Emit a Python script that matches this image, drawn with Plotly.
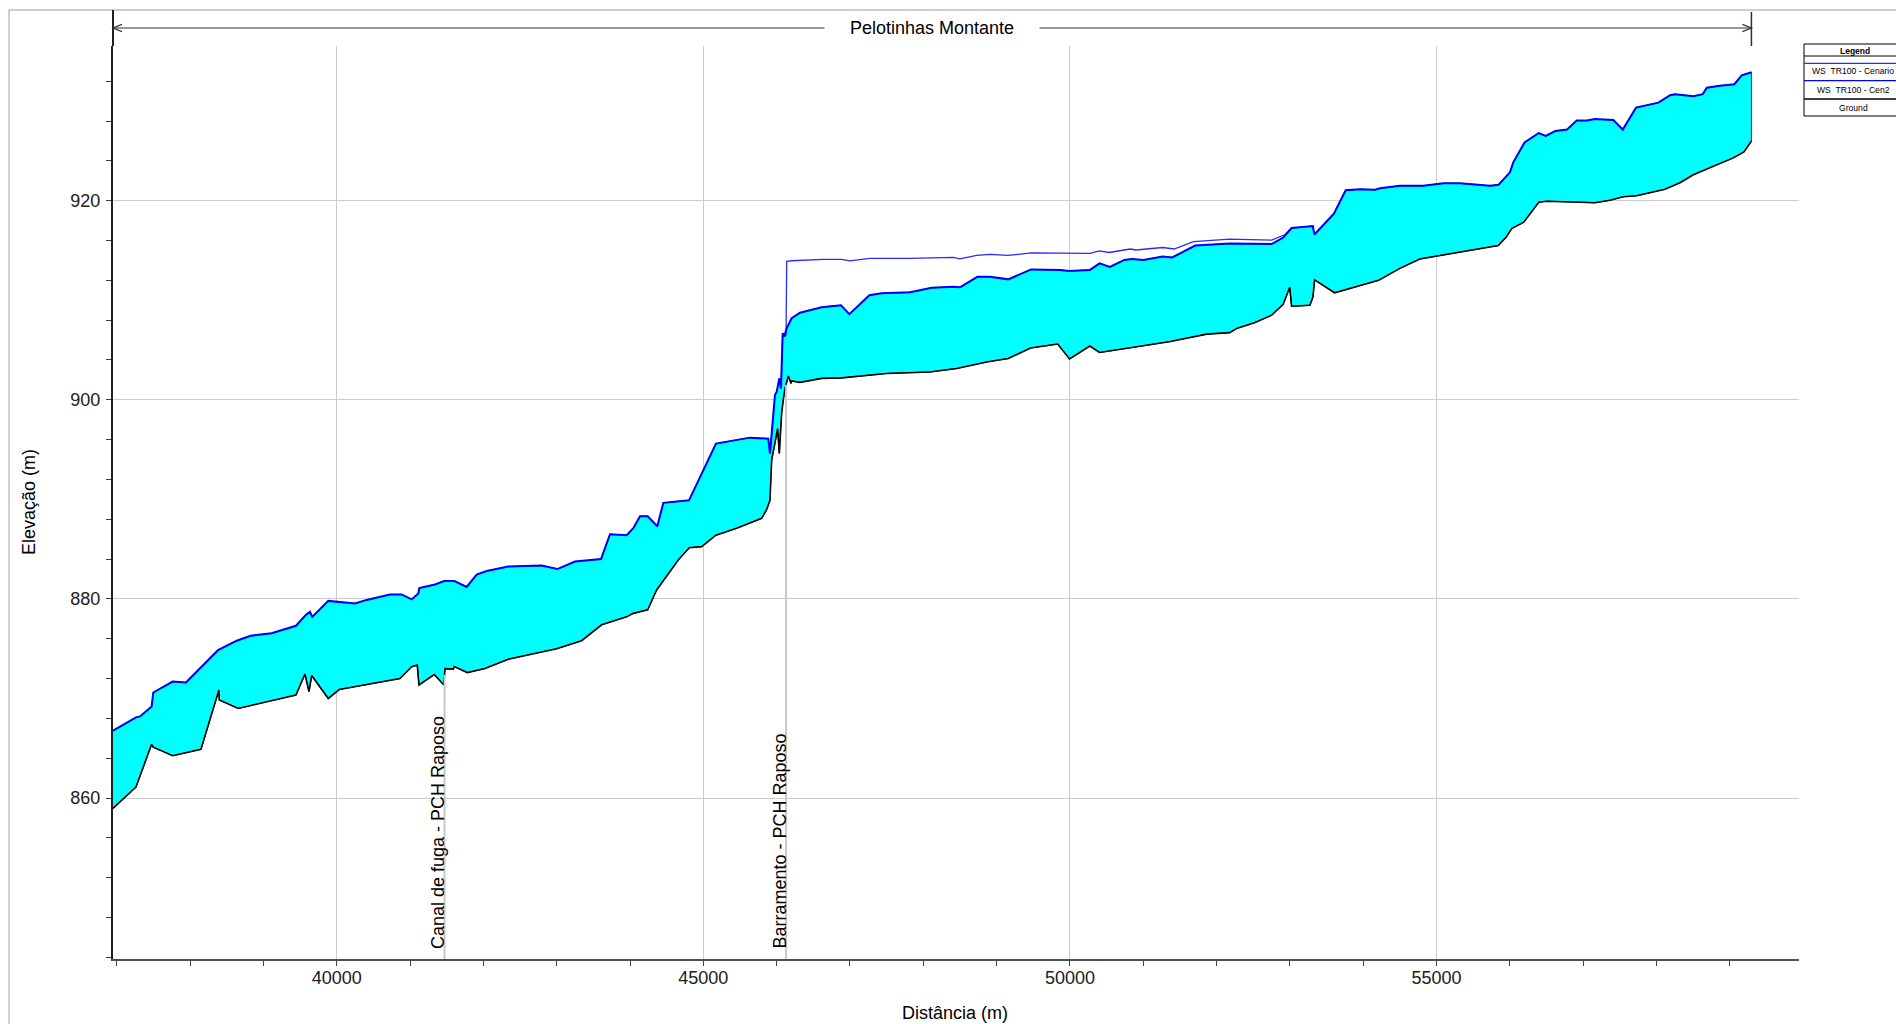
import numpy as np
import plotly.graph_objects as go

# ---------------- DATA ----------------
ground_x = [36948, 37261, 37475, 37497, 37762, 38148, 38393, 38397, 38657, 39443,
            39566, 39621, 39658, 39884, 40034, 40271, 40862, 41022, 41098, 41121,
            41330, 41460, 41476, 41590, 41603, 41780, 42021, 42339, 42635, 42999,
            43340, 43613, 43954, 44044, 44241, 44363, 44658, 44808, 44977, 45172,
            45454, 45796, 45864, 45909, 45932, 45977, 46013, 46036, 46068, 46090,
            46113, 46159, 46196, 46205, 46318, 46614, 46887, 47500, 48091, 48455,
            48865, 49159, 49463, 49833, 49995, 50272, 50404, 50847, 51369, 51866,
            52178, 52283, 52517, 52752, 52909, 52998, 53023, 53274, 53315, 53337,
            53610, 54210, 54500, 54773, 55003, 55363, 55843, 55957, 56026, 56190,
            56395, 56503, 56821, 57161, 57366, 57548, 57730, 58116, 58321, 58503,
            58663, 58867, 59048, 59194, 59295]
ground_y = [858.96, 861.1, 865.4, 865.1, 864.25, 864.9, 870.85, 869.85, 869.0, 870.35,
            872.45, 870.7, 872.3, 870.0, 870.9, 871.2, 872.0, 873.2, 873.35, 871.35,
            872.4, 871.35, 873.0, 872.95, 873.2, 872.6, 873.0, 873.95, 874.4, 875.0,
            875.8, 877.4, 878.2, 878.55, 878.9, 880.9, 883.9, 885.15, 885.25, 886.4,
            887.1, 888.1, 889.0, 889.9, 893.95, 895.6, 897.1, 894.6, 898.65, 900.0,
            901.1, 902.4, 901.65, 901.9, 901.75, 902.15, 902.2, 902.65, 902.8, 903.15,
            903.8, 904.15, 905.2, 905.6, 904.1, 905.4, 904.75, 905.25, 905.85, 906.6,
            906.75, 907.2, 907.75, 908.5, 909.6, 911.3, 909.4, 909.5, 910.35, 912.05,
            910.75, 912.0, 913.2, 914.15, 914.45, 914.9, 915.5, 916.4, 917.2, 917.85,
            919.85, 919.95, 919.9, 919.8, 920.05, 920.4, 920.5, 921.15, 921.8, 922.6,
            923.1, 923.7, 924.3, 924.9, 926.0]

ws_cen2_x = [36948, 37111, 37261, 37316, 37475, 37497, 37762, 37943, 38380, 38635,
             38826, 39112, 39443, 39580, 39634, 39666, 39884, 40248, 40408, 40726,
             40885, 41022, 41112, 41126, 41340, 41465, 41605, 41772, 41908, 42045,
             42339, 42795, 43008, 43249, 43604, 43727, 43954, 44044, 44136, 44241,
             44372, 44454, 44804, 45172, 45636, 45886, 45909, 45932, 45977, 46000,
             46036, 46059, 46082, 46103, 46137, 46205, 46318, 46614, 46877, 46991,
             47264, 47432, 47818, 48114, 48410, 48501, 48737, 48910, 49159, 49470,
             49865, 49990, 50272, 50404, 50544, 50743, 50847, 51003, 51264, 51395,
             51709, 52178, 52752, 52909, 53023, 53313, 53335, 53600, 53761, 53956,
             54161, 54229, 54502, 54820, 55093, 55320, 55548, 55729, 55847, 55933,
             56001, 56047, 56200, 56395, 56489, 56620, 56780, 56912, 57048, 57161,
             57412, 57540, 57721, 58026, 58186, 58254, 58503, 58631, 58686, 58867,
             59062, 59163, 59295]
ws_cen2_y = [866.76, 867.5, 868.1, 868.2, 869.2, 870.6, 871.7, 871.6, 874.85, 875.8,
             876.3, 876.55, 877.3, 878.4, 878.7, 878.2, 879.8, 879.55, 879.9, 880.45,
             880.45, 879.95, 880.55, 881.1, 881.45, 881.8, 881.8, 881.2, 882.45, 882.8,
             883.25, 883.35, 883.0, 883.75, 884.0, 886.5, 886.4, 887.1, 888.3, 888.3,
             887.3, 889.65, 889.9, 895.6, 896.2, 896.1, 894.6, 896.6, 900.5, 900.8,
             902.15, 901.15, 906.7, 906.35, 907.2, 908.2, 908.75, 909.3, 909.5, 908.6,
             910.5, 910.7, 910.8, 911.25, 911.35, 911.3, 912.35, 912.35, 912.1, 913.1,
             913.05, 912.95, 913.05, 913.7, 913.35, 914.05, 914.15, 914.05, 914.4, 914.3,
             915.5, 915.7, 915.65, 916.3, 917.25, 917.45, 916.6, 918.7, 921.05, 921.15,
             921.1, 921.25, 921.5, 921.5, 921.75, 921.75, 921.65, 921.5, 921.6, 922.25,
             922.85, 923.85, 925.85, 926.8, 926.5, 927.0, 927.15, 928.05, 928.05, 928.2,
             928.1, 927.15, 929.35, 929.85, 930.6, 930.7, 930.5, 930.7, 931.35, 931.55,
             931.7, 932.6, 932.9]

# WS Cenario: only where it departs from the Cen2 profile
ws_cenario_x = [46103, 46128, 46137, 46205, 46636, 46886, 46999, 47272, 47818, 48182,
                48409, 48500, 48728, 48910, 49159, 49470, 50137, 50274, 50400, 50534,
                50821, 50900, 51264, 51421, 51683, 52178, 52752, 52935, 53023]
ws_cenario_y = [906.35, 906.5, 913.9, 913.97, 914.1, 914.1, 913.95, 914.2, 914.2, 914.3,
                914.3, 914.15, 914.5, 914.6, 914.5, 914.75, 914.75, 914.7, 914.95, 914.8,
                915.15, 915.05, 915.3, 915.15, 915.9, 916.15, 916.05, 916.6, 917.25]

marker_stations = [41470, 46128]
marker_labels = ["Canal de fuga - PCH Raposo", "Barramento - PCH Raposo"]

reach_name = "Pelotinhas Montante"
legend_title = "Legend"
series_names = ["WS  TR100 - Cenario", "WS  TR100 - Cen2", "Ground"]

x_title = "Distância (m)"
y_title = "Elevação (m)"

x_range = [36948, 59944]
y_range = [843.83, 935.54]

# ---------------- LAYOUT HELPERS (pixels -> paper) ----------------
W, H = 1896, 1024
L, R, T, B = 113, 1799, 46, 959
PW, PH = R - L, B - T
FONT = "Arial, Liberation Sans, sans-serif"


def ppx(p):
    return (p - L) / PW


def ppy(p):
    return (B - p) / PH


def dx(v):
    return (v - x_range[0]) / (x_range[1] - x_range[0])


fig = go.Figure()

# water fill between Cen2 WS and ground
fig.add_trace(go.Scatter(
    x=ws_cen2_x + ground_x[::-1], y=ws_cen2_y + ground_y[::-1],
    fill="toself", fillcolor="#00FFFF", mode="lines",
    line=dict(color="#303030", width=1), hoverinfo="skip", showlegend=False))

fig.add_trace(go.Scatter(x=ground_x, y=ground_y, mode="lines", name=series_names[2],
                         line=dict(color="black", width=1.6), showlegend=False))
fig.add_trace(go.Scatter(x=ws_cenario_x, y=ws_cenario_y, mode="lines", name=series_names[0],
                         line=dict(color="#2a2aff", width=1.3), showlegend=False))
fig.add_trace(go.Scatter(x=ws_cen2_x, y=ws_cen2_y, mode="lines", name=series_names[1],
                         line=dict(color="#0000ff", width=2), showlegend=False))

shapes = []
annotations = []

# vertical station markers
for st, lab in zip(marker_stations, marker_labels):
    top = float(np.interp(st, ground_x, ground_y))
    fig.add_trace(go.Scatter(x=[st, st], y=[top, y_range[0]], mode="lines",
                             line=dict(color="#c8c8c8", width=2),
                             hoverinfo="skip", showlegend=False))
    annotations.append(dict(x=st, xref="x", y=0, yref="paper", text=lab,
                            textangle=-90, xanchor="right", yanchor="bottom",
                            showarrow=False, xshift=5, yshift=8,
                            font=dict(family=FONT, size=18, color="black")))

# outer frame
shapes.append(dict(type="line", xref="paper", yref="paper", x0=ppx(9), x1=ppx(W + 5),
                   y0=ppy(10), y1=ppy(10), line=dict(color="#a0a0a0", width=1)))
shapes.append(dict(type="line", xref="paper", yref="paper", x0=ppx(9), x1=ppx(9),
                   y0=ppy(10), y1=ppy(H + 5), line=dict(color="#a0a0a0", width=1)))
# y-axis line extension above plot
shapes.append(dict(type="line", xref="paper", yref="paper", x0=0, x1=0,
                   y0=1, y1=ppy(10), line=dict(color="#202020", width=2)))

# reach arrow
ay = ppy(28)
xs, xe = dx(ground_x[0]), dx(ground_x[-1])
shapes.append(dict(type="line", xref="paper", yref="paper", x0=xs, x1=xe, y0=ay, y1=ay,
                   line=dict(color="#303030", width=1)))
shapes.append(dict(type="line", xref="paper", yref="paper", x0=xe, x1=xe, y0=ppy(12), y1=1,
                   line=dict(color="#303030", width=1.5)))
hl, hh = 9 / PW, 3.6 / PH
shapes.append(dict(type="path", xref="paper", yref="paper",
                   path=f"M {xs+hl},{ay+hh} L {xs},{ay} L {xs+hl},{ay-hh}",
                   line=dict(color="#303030", width=1.2)))
shapes.append(dict(type="path", xref="paper", yref="paper",
                   path=f"M {xe-hl},{ay+hh} L {xe},{ay} L {xe-hl},{ay-hh}",
                   line=dict(color="#303030", width=1.2)))
pad = "\u00a0" * 5
annotations.append(dict(x=(xs + xe) / 2, y=ay, xref="paper", yref="paper",
                        text=pad + reach_name + pad, showarrow=False, bgcolor="white",
                        borderpad=0, xanchor="center", yanchor="middle",
                        font=dict(family=FONT, size=18, color="black")))

# axis titles
annotations.append(dict(x=ppx(955), y=ppy(1013), xref="paper", yref="paper", text=x_title,
                        showarrow=False, xanchor="center", yanchor="middle",
                        font=dict(family=FONT, size=18, color="black")))
annotations.append(dict(x=ppx(29), y=ppy(502), xref="paper", yref="paper", text=y_title,
                        showarrow=False, textangle=-90, xanchor="center", yanchor="middle",
                        font=dict(family=FONT, size=18, color="black")))

# custom legend box
lx0, lx1, lcx = 1804, 1908, 1853
shapes.append(dict(type="rect", xref="paper", yref="paper", x0=ppx(lx0), x1=ppx(lx1),
                   y0=ppy(116), y1=ppy(44), line=dict(color="black", width=1),
                   fillcolor="white"))
shapes.append(dict(type="line", xref="paper", yref="paper", x0=ppx(lx0), x1=ppx(lx1),
                   y0=ppy(56), y1=ppy(56), line=dict(color="black", width=1)))
annotations.append(dict(x=ppx(lcx + 2), y=ppy(51), xref="paper", yref="paper",
                        text="<b>" + legend_title + "</b>", showarrow=False,
                        xanchor="center", yanchor="middle",
                        font=dict(family=FONT, size=8.5, color="black")))
leg_colors = ["#2a2aff", "#0000ff", "black"]
line_ys = [63.3, 80.7, 99]
text_ys = [71, 89.5, 108.3]
for name, col, ly, ty in zip(series_names, leg_colors, line_ys, text_ys):
    shapes.append(dict(type="line", xref="paper", yref="paper", x0=ppx(lx0), x1=ppx(lx1),
                       y0=ppy(ly), y1=ppy(ly), line=dict(color=col, width=1.3)))
    annotations.append(dict(x=ppx(lcx), y=ppy(ty), xref="paper", yref="paper", text=name,
                            showarrow=False, xanchor="center", yanchor="middle",
                            font=dict(family=FONT, size=8.6, color="black")))

fig.update_layout(
    width=W, height=H, autosize=False,
    margin=dict(l=L, r=W - R, t=T, b=H - B, pad=0),
    paper_bgcolor="white", plot_bgcolor="white",
    font=dict(family=FONT, size=18, color="black"),
    shapes=shapes, annotations=annotations, showlegend=False,
    xaxis=dict(range=x_range, dtick=5000, tick0=0, tickformat="d", ticks="outside",
               ticklen=5, tickcolor="#404040", tickwidth=1, showline=True,
               linecolor="#505050", linewidth=2, showgrid=True, gridcolor="#cccccc",
               gridwidth=1, zeroline=False, tickfont=dict(size=18, color="#202020"),
               ticklabelstandoff=-4,
               minor=dict(dtick=1000, ticks="outside", ticklen=5, tickcolor="#404040",
                          showgrid=False)),
    yaxis=dict(range=y_range, dtick=20, tick0=0, ticks="outside", ticklen=5,
               tickcolor="#404040", tickwidth=1, showline=True, linecolor="#202020",
               linewidth=2, showgrid=True, gridcolor="#cccccc", gridwidth=1,
               zeroline=False, tickfont=dict(size=18, color="#202020"),
               ticklabelstandoff=2,
               minor=dict(dtick=4, ticks="outside", ticklen=5, tickcolor="#404040",
                          showgrid=False)),
)

fig.write_html("out.html", config={"displayModeBar": False},
               post_script="document.body.style.margin='0';document.body.style.overflow='hidden';")
